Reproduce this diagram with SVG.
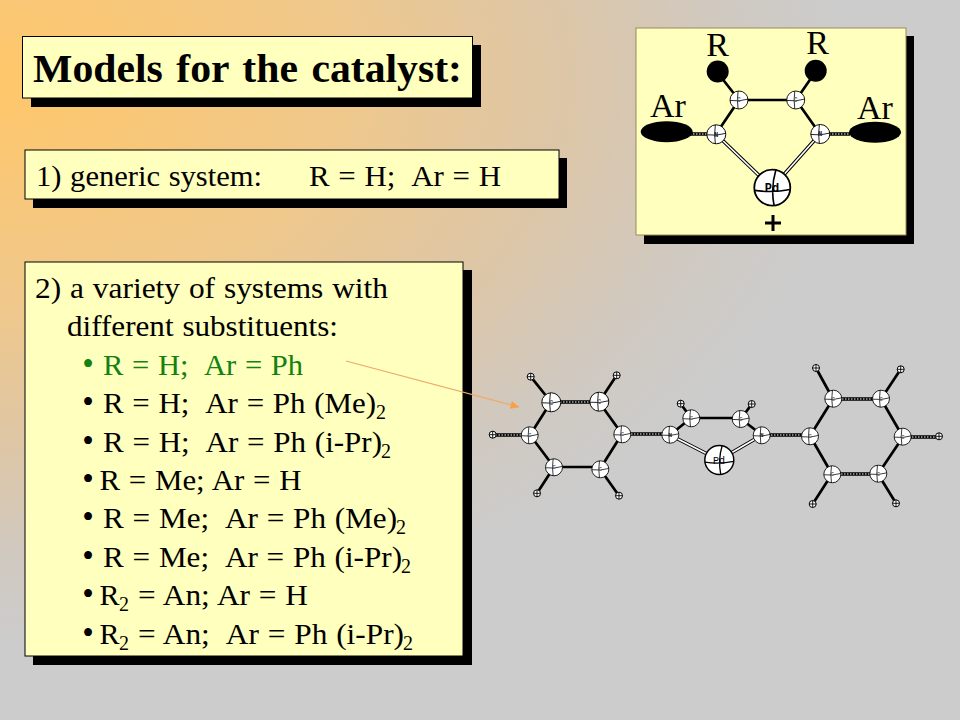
<svg xmlns="http://www.w3.org/2000/svg" xmlns:xlink="http://www.w3.org/1999/xlink" width="960" height="720" viewBox="0 0 960 720">
<style>
.box{fill:#ffffbe;stroke:#000;stroke-width:1}
.tan{stroke:#9a8a5a}
.shadow{fill:#000}
text{font-family:"Liberation Serif","Times New Roman",serif;fill:#000}
.t{font-size:30px;word-spacing:1px}
.bu{font-size:33px}
.g{fill:#128212}
.sub{font-size:20px}
.b{stroke:#000;stroke-width:2.7;fill:none;stroke-linecap:round}
.d{stroke:#000;stroke-width:3.6;fill:none}
.dw{stroke:#fff;stroke-width:1.2;fill:none;stroke-dasharray:1.5 1.5}
.w{stroke:#000;stroke-width:3.6;fill:none}
.wi{stroke:#fff;stroke-width:1.6;fill:none}
.a{fill:#fff;stroke:#000;stroke-width:1}
.l{fill:none;stroke:#000;stroke-width:.9}
.tiny{font-size:7px;font-weight:bold;text-anchor:middle;fill:#666;font-family:"Liberation Mono",monospace}
</style>
<defs>
<radialGradient id="bg" gradientUnits="userSpaceOnUse" cx="0" cy="0" r="850" gradientTransform="translate(0 80) scale(1 .66)">
<stop offset="0" stop-color="#ffc76a"/>
<stop offset=".39" stop-color="#f0c88a"/>
<stop offset=".67" stop-color="#dcc6a8"/>
<stop offset=".85" stop-color="#d0c9c0"/>
<stop offset="1" stop-color="#cccccc"/>
</radialGradient>
<marker id="ah" markerWidth="9" markerHeight="8" refX="8.500" refY="4" orient="auto" markerUnits="userSpaceOnUse"><path d="M0 0L9 4L0 8Z" fill="#f7a04a"/></marker>
<g id="atomC"><circle r="10" class="a"/><path class="l" d="M-10 0.5Q0 2 10 -1M-1 -10Q-2.500 0 -1 10"/><text class="tiny" y="2.500">C</text></g>
<g id="atomN"><circle r="10" class="a"/><path class="l" d="M-10 0.5Q0 2 10 -1M-1 -10Q-2.500 0 -1 10"/><text class="tiny" y="2.500" style="fill:#222">N</text></g>
<g id="atomP"><circle r="10" class="a"/><path class="l" d="M-10 1.500Q0 3 10 1M2 -10Q-1 0 1 10"/></g>
<g id="hyd"><circle r="3.500" class="a"/><path class="l" d="M-3.500 0H3.500M0 -3.500V3.500"/></g>
</defs>
<rect width="960" height="720" fill="url(#bg)"/>

<g id="title">
<rect class="shadow" x="31" y="45" width="450" height="62"/>
<rect class="box" x="22.500" y="36.500" width="450" height="61.500"/>
<text x="33" y="82" font-size="41" font-weight="bold" word-spacing="3" textLength="429" lengthAdjust="spacingAndGlyphs">Models for the catalyst:</text>
</g>

<g id="box1">
<rect class="shadow" x="33" y="158" width="534" height="50"/>
<rect class="box" x="25" y="150" width="534" height="49"/>
<text class="t" x="36" y="185.500" textLength="226" lengthAdjust="spacingAndGlyphs">1) generic system:</text>
<text class="t" x="309" y="185.500" textLength="192" lengthAdjust="spacingAndGlyphs" xml:space="preserve">R = H;  Ar = H</text>
</g>

<g id="box2">
<rect class="shadow" x="33" y="270" width="439" height="395"/>
<rect class="box" x="25" y="262" width="438" height="394"/>
<text class="t" x="35" y="297.500" textLength="353" lengthAdjust="spacingAndGlyphs">2) a variety of systems with</text>
<text class="t" x="67" y="335.500" textLength="271" lengthAdjust="spacingAndGlyphs">different substituents:</text>
<text class="bu g" x="82.300" y="375">•</text><text class="t g" x="103" y="375" textLength="200" lengthAdjust="spacingAndGlyphs" xml:space="preserve">R = H;  Ar = Ph</text>
<text class="bu" x="82.300" y="413">•</text><text class="t" x="103" y="413" textLength="273" lengthAdjust="spacingAndGlyphs" xml:space="preserve">R = H;  Ar = Ph (Me)</text><text class="sub" x="376" y="419">2</text>
<text class="bu" x="82.300" y="451.500">•</text><text class="t" x="103" y="451.500" textLength="279" lengthAdjust="spacingAndGlyphs" xml:space="preserve">R = H;  Ar = Ph (i-Pr)</text><text class="sub" x="381" y="457.500">2</text>
<text class="bu" x="82.300" y="489.500">•</text><text class="t" x="99.500" y="489.500" textLength="202" lengthAdjust="spacingAndGlyphs">R = Me; Ar = H</text>
<text class="bu" x="82.300" y="528">•</text><text class="t" x="103" y="528" textLength="294" lengthAdjust="spacingAndGlyphs" xml:space="preserve">R = Me;  Ar = Ph (Me)</text><text class="sub" x="396" y="534">2</text>
<text class="bu" x="82.300" y="566.500">•</text><text class="t" x="103" y="566.500" textLength="299" lengthAdjust="spacingAndGlyphs" xml:space="preserve">R = Me;  Ar = Ph (i-Pr)</text><text class="sub" x="401" y="572.500">2</text>
<text class="bu" x="82.300" y="605">•</text><text class="t" x="99.500" y="605">R</text><text class="sub" x="119" y="611">2</text><text class="t" x="138" y="605" textLength="170" lengthAdjust="spacingAndGlyphs">= An; Ar = H</text>
<text class="bu" x="82.300" y="643.500">•</text><text class="t" x="99.500" y="643.500">R</text><text class="sub" x="119" y="649.500">2</text><text class="t" x="138" y="643.500" textLength="266" lengthAdjust="spacingAndGlyphs" xml:space="preserve">= An;  Ar = Ph (i-Pr)</text><text class="sub" x="403" y="649.500">2</text>
</g>

<g id="panel">
<rect class="shadow" x="644" y="36" width="270" height="208"/>
<rect class="box tan" x="636" y="28" width="270" height="207"/>
<g id="panel-bonds">
<path class="b" d="M717 72L739 100M816 71L796 100M739 100H796M739 100L716 134M796 100L820 134"/>
<path class="d" d="M690 134H716M820 134H850"/><path class="dw" d="M690 134H716M820 134H850"/>
<path class="w" d="M716 134L772 188M820 134L772 188"/><path class="wi" d="M716 134L772 188M820 134L772 188"/>
</g>
<circle cx="717.700" cy="71.500" r="11" fill="#000"/>
<circle cx="815.700" cy="70.700" r="11" fill="#000"/>
<ellipse cx="666.700" cy="131.700" rx="26" ry="10.500" fill="#000"/>
<ellipse cx="875" cy="132.300" rx="26" ry="10.500" fill="#000"/>
<use xlink:href="#atomC" href="#atomC" transform="translate(739 100) scale(.9)"/>
<use xlink:href="#atomC" href="#atomC" transform="translate(795.700 100) scale(.9)"/>
<use xlink:href="#atomN" href="#atomN" transform="translate(716.300 134.300) scale(.95)"/>
<use xlink:href="#atomN" href="#atomN" transform="translate(820.300 134) scale(.95)"/>
<use xlink:href="#atomP" href="#atomP" transform="translate(772.300 187.700) scale(1.8)"/>
<text x="772" y="192" font-size="12" font-weight="bold" text-anchor="middle" style="font-family:'Liberation Mono',monospace">Pd</text>
<text x="717.500" y="56" font-size="34" text-anchor="middle">R</text>
<text x="817.500" y="54" font-size="34" text-anchor="middle">R</text>
<text x="668" y="117" font-size="34" text-anchor="middle">Ar</text>
<text x="875" y="119" font-size="34" text-anchor="middle">Ar</text>
<path d="M773 215V231M765 223H781" stroke="#000" stroke-width="3" fill="none"/>
</g>

<g id="connectors">
<line x1="346" y1="361" x2="519" y2="407" stroke="#f0a868" stroke-width="1.200" marker-end="url(#ah)"/>
</g>

<g id="molecule">
<path class="b" d="M551 402L530.700 376.700M599 402L616.700 375.300M554 467L537 493.300M600 469L619 495.700M551 402L530 435M599 402L622 434M530 435L554 467M622 434L600 469M554 467H600M691 418L680.700 403.700M691 418L670 435M691 418H741M741 419L751.700 404M741 419L762 435M833 399L816 368M881 399L900.700 369.300M832 474L812.700 504M878 474L896 503.300M810 436L833 399M881 399L903 437M903 437L878 474M810 436L832 474"/>
<path class="d" d="M551 402H599M530 435H493M622 434H670M762 435H810M833 399H881M903 437H939M832 474H878"/>
<path class="dw" d="M551 402H599M530 435H493M622 434H670M762 435H810M833 399H881M903 437H939M832 474H878"/>
<path class="w" d="M670 435L719 460M762 435L719 460"/><path class="wi" d="M670 435L719 460M762 435L719 460"/>
<use xlink:href="#atomC" href="#atomC" transform="translate(551.300 402.300) scale(.95)"/>
<use xlink:href="#atomC" href="#atomC" transform="translate(599.300 401.700) scale(.95)"/>
<use xlink:href="#atomC" href="#atomC" transform="translate(622.300 434.300) scale(.85)"/>
<use xlink:href="#atomC" href="#atomC" transform="translate(600.300 469.300) scale(.85)"/>
<use xlink:href="#atomC" href="#atomC" transform="translate(554 467.300) scale(.85)"/>
<use xlink:href="#atomC" href="#atomC" transform="translate(529.700 435.300) scale(.85)"/>
<use xlink:href="#atomN" href="#atomN" transform="translate(670.300 434.700) scale(.85)"/>
<use xlink:href="#atomC" href="#atomC" transform="translate(691.300 418.300) scale(.85)"/>
<use xlink:href="#atomC" href="#atomC" transform="translate(740.700 419) scale(.85)"/>
<use xlink:href="#atomN" href="#atomN" transform="translate(761.700 435.300) scale(.85)"/>
<use xlink:href="#atomC" href="#atomC" transform="translate(810 436.300) scale(.85)"/>
<use xlink:href="#atomC" href="#atomC" transform="translate(833.300 398.700) scale(.85)"/>
<use xlink:href="#atomC" href="#atomC" transform="translate(881 398.700) scale(.85)"/>
<use xlink:href="#atomC" href="#atomC" transform="translate(902.700 436.700) scale(.85)"/>
<use xlink:href="#atomC" href="#atomC" transform="translate(878.300 473.700) scale(.85)"/>
<use xlink:href="#atomC" href="#atomC" transform="translate(832.300 474.300) scale(.85)"/>
<use xlink:href="#atomP" href="#atomP" transform="translate(719.300 460) scale(1.45)"/>
<text x="719" y="463.500" font-size="10" text-anchor="middle" style="font-family:'Liberation Mono',monospace">Pd</text>
<use xlink:href="#hyd" href="#hyd" x="530.700" y="376.700"/>
<use xlink:href="#hyd" href="#hyd" x="616.700" y="375.300"/>
<use xlink:href="#hyd" href="#hyd" x="492.700" y="434.700"/>
<use xlink:href="#hyd" href="#hyd" x="537" y="493.300"/>
<use xlink:href="#hyd" href="#hyd" x="619" y="495.700"/>
<use xlink:href="#hyd" href="#hyd" x="680.700" y="403.700"/>
<use xlink:href="#hyd" href="#hyd" x="751.700" y="404"/>
<use xlink:href="#hyd" href="#hyd" x="816" y="368"/>
<use xlink:href="#hyd" href="#hyd" x="900.700" y="369.300"/>
<use xlink:href="#hyd" href="#hyd" x="939" y="436.300"/>
<use xlink:href="#hyd" href="#hyd" x="896" y="503.300"/>
<use xlink:href="#hyd" href="#hyd" x="812.700" y="504"/>
</g>
</svg>
